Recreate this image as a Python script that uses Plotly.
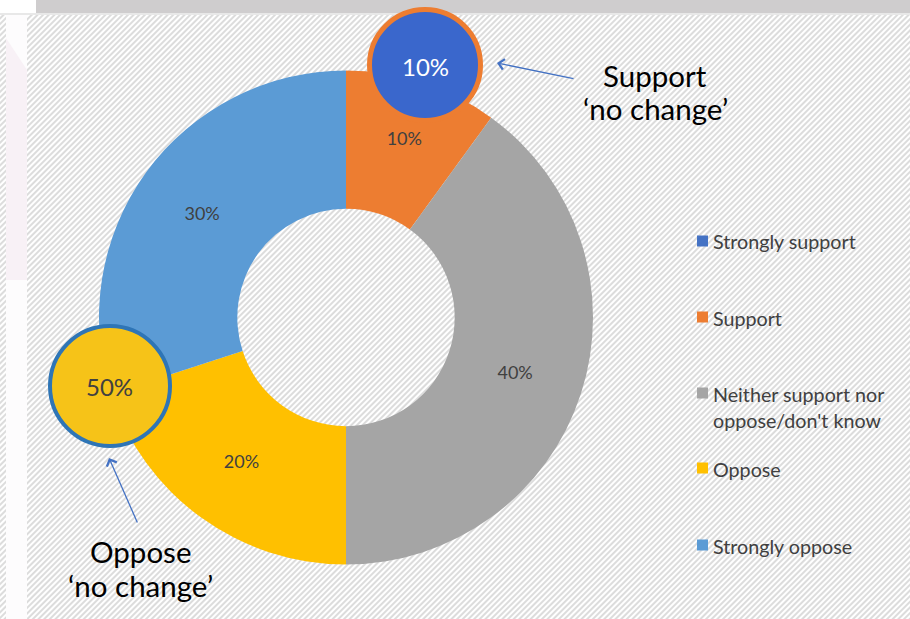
import base64
import plotly.graph_objects as go

# ---- data ----
categories = [
    "Strongly support",
    "Support",
    "Neither support nor oppose/don't know",
    "Oppose",
    "Strongly oppose",
]
legend_labels = [
    "Strongly support",
    "Support",
    "Neither support nor<br>oppose/don't know",
    "Oppose",
    "Strongly oppose",
]
values = [0, 10, 40, 20, 30]
colors = ["#4472c4", "#ed7d31", "#a5a5a5", "#ffc000", "#5b9bd5"]

support_total = values[0] + values[1]
oppose_total = values[3] + values[4]

W, H = 910, 619
FONT = "Lato"
TEXT_GREY = "#404040"


def px(x):
    return x / W


def py(y):
    return 1 - y / H


# ---- hatched slide background as an inline SVG ----
svg = f"""<svg xmlns='http://www.w3.org/2000/svg' width='{W}' height='{H}'>
<defs><pattern id='h' width='4' height='4' patternUnits='userSpaceOnUse' patternTransform='rotate(45)'>
<rect width='4' height='4' fill='#ffffff'/><rect width='2' height='4' fill='#dcdcdc'/></pattern></defs>
<rect width='{W}' height='{H}' fill='url(#h)'/>
<rect x='0' y='0' width='36' height='13' fill='#ffffff'/>
<rect x='36' y='0' width='{W-36}' height='13' fill='#cfcdce'/>
<rect x='0' y='13' width='{W}' height='2' fill='#e8e8e8'/>
<rect x='6' y='15' width='21' height='{H-15}' fill='#fdfcfd'/>
<polygon points='6,38 27,70 27,280 6,280' fill='#f8f1f6'/>
</svg>"""
bg_src = "data:image/svg+xml;base64," + base64.b64encode(svg.encode()).decode()

fig = go.Figure()

fig.add_trace(
    go.Pie(
        labels=categories,
        values=values,
        marker=dict(colors=colors, line=dict(width=0)),
        hole=0.44,
        sort=False,
        direction="clockwise",
        rotation=0,
        text=[f"{v}%" if v else "" for v in values],
        textinfo="text",
        textposition="inside",
        insidetextorientation="horizontal",
        textfont=dict(family=FONT, size=18, color=TEXT_GREY),
        showlegend=False,
        domain=dict(x=[px(99), px(593)], y=[py(564.5), py(70.5)]),
        hoverinfo="label+percent",
    )
)

shapes = []
annotations = []

# ---- legend (drawn manually to keep the wide row spacing) ----
legend_rows = [241, 317, 393, 468, 545]
for lab, col, yrow in zip(legend_labels, colors, legend_rows):
    shapes.append(
        dict(
            type="rect", xref="paper", yref="paper",
            x0=px(697), x1=px(708), y0=py(yrow - 5.5), y1=py(yrow + 5.5),
            fillcolor=col, line=dict(width=0),
        )
    )
    annotations.append(
        dict(
            text=lab, xref="paper", yref="paper",
            x=px(711), y=py(yrow - 12.5), xanchor="left", yanchor="top",
            align="left", showarrow=False,
            font=dict(family=FONT, size=19.7, color=TEXT_GREY),
        )
    )

# ---- call-out circles ----
shapes.append(
    dict(
        type="circle", xref="paper", yref="paper",
        x0=px(425 - 55.5), x1=px(425 + 55.5), y0=py(65 + 55.5), y1=py(65 - 55.5),
        fillcolor="#3a67cc", line=dict(color=colors[1], width=5),
    )
)
shapes.append(
    dict(
        type="circle", xref="paper", yref="paper",
        x0=px(110 - 60), x1=px(110 + 60), y0=py(386 + 60), y1=py(386 - 60),
        fillcolor="#f6c318", line=dict(color="#2e75b6", width=4),
    )
)
annotations.append(
    dict(
        text=f"{support_total}%", xref="paper", yref="paper",
        x=px(425), y=py(66), xanchor="center", yanchor="middle",
        showarrow=False,
        font=dict(family=FONT, size=24, color="#ffffff"),
    )
)
annotations.append(
    dict(
        text=f"{oppose_total}%", xref="paper", yref="paper",
        x=px(109), y=py(387), xanchor="center", yanchor="middle",
        showarrow=False,
        font=dict(family=FONT, size=24, color=TEXT_GREY),
    )
)

# ---- arrows and captions ----
annotations.append(
    dict(
        text="", xref="paper", yref="paper", x=px(497), y=py(63),
        ax=78, ay=16, showarrow=True, arrowhead=4, arrowsize=1.6,
        arrowwidth=1.3, arrowcolor="#4472c4",
    )
)
annotations.append(
    dict(
        text="", xref="paper", yref="paper", x=px(109), y=py(458),
        ax=29, ay=66, showarrow=True, arrowhead=4, arrowsize=1.6,
        arrowwidth=1.3, arrowcolor="#4472c4",
    )
)
captions = [
    ("Support", 655, 75),
    ("‘no change’", 655, 109),
    ("Oppose", 140, 551),
    ("‘no change’", 140, 585),
]
for txt, cx, cy in captions:
    annotations.append(
        dict(
            text=txt, xref="paper", yref="paper",
            x=px(cx), y=py(cy), xanchor="center", yanchor="middle",
            showarrow=False,
            font=dict(family=FONT, size=29.5, color="#000000"),
        )
    )

fig.update_layout(
    width=W,
    height=H,
    margin=dict(l=0, r=0, t=0, b=0),
    paper_bgcolor="#ffffff",
    plot_bgcolor="#ffffff",
    images=[
        dict(
            source=bg_src, xref="paper", yref="paper", x=0, y=1,
            sizex=1, sizey=1, xanchor="left", yanchor="top",
            sizing="stretch", layer="below",
        )
    ],
    shapes=shapes,
    annotations=annotations,
)

fig.write_html("out.html")
